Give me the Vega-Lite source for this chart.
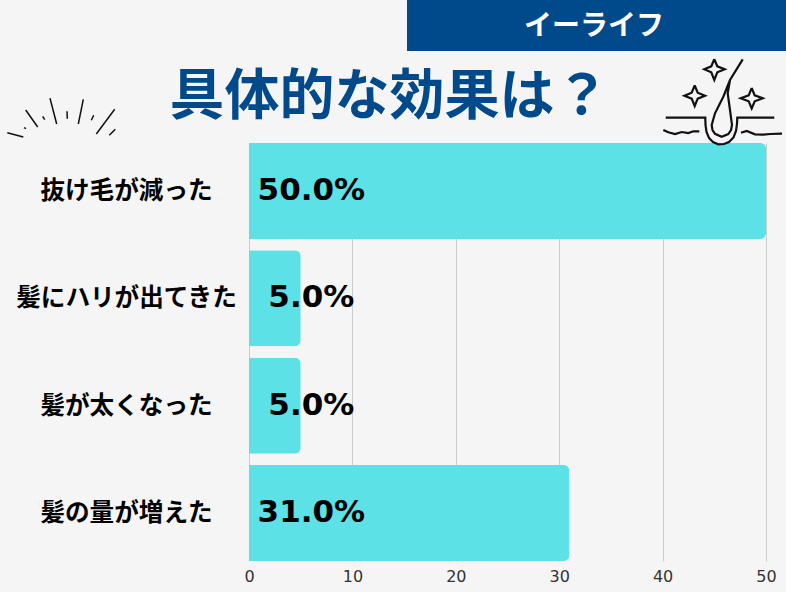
{
  "$schema": "https://vega.github.io/schema/vega-lite/v6.json",
  "description": "具体的な効果は？",
  "width": 517,
  "height": 418,
  "autosize": {"type": "none"},
  "padding": {"left": 249, "top": 143, "right": 20, "bottom": 31},
  "background": "#f5f5f5",
  "title": {
    "text": "具体的な効果は？",
    "font": "Noto Sans CJK JP",
    "fontSize": 55,
    "fontWeight": "bold",
    "color": "#004a8b",
    "anchor": "middle",
    "frame": "group",
    "dx": -118,
    "dy": 136,
    "offset": 10
  },
  "config": {"view": {"stroke": null}},
  "datasets": {
    "effects": [
      {"effect": "抜け毛が減った", "percent": 50.0, "label": "50.0%"},
      {"effect": "髪にハリが出てきた", "percent": 5.0, "label": "5.0%"},
      {"effect": "髪が太くなった", "percent": 5.0, "label": "5.0%"},
      {"effect": "髪の量が増えた", "percent": 31.0, "label": "31.0%"}
    ],
    "banner": [{"x": 407, "x2": 786, "y": 0, "y2": 51, "cx": 594, "cy": 27, "label": "イーライフ"}],
    "burst": [
      {"path": "a", "i": 0, "x": 7.3, "y": 132.7}, {"path": "a", "i": 1, "x": 23.3, "y": 137},
      {"path": "b", "i": 0, "x": 24, "y": 127.7}, {"path": "b", "i": 1, "x": 26, "y": 128.7},
      {"path": "c", "i": 0, "x": 25.7, "y": 110}, {"path": "c", "i": 1, "x": 37.7, "y": 127},
      {"path": "d", "i": 0, "x": 42.7, "y": 116.3}, {"path": "d", "i": 1, "x": 44.7, "y": 119.7},
      {"path": "e", "i": 0, "x": 50, "y": 98.3}, {"path": "e", "i": 1, "x": 56.7, "y": 124},
      {"path": "f", "i": 0, "x": 67, "y": 111.3}, {"path": "f", "i": 1, "x": 67.3, "y": 118.7},
      {"path": "g", "i": 0, "x": 83.3, "y": 99.3}, {"path": "g", "i": 1, "x": 78.3, "y": 124},
      {"path": "h", "i": 0, "x": 93.7, "y": 115.3}, {"path": "h", "i": 1, "x": 91.3, "y": 120.3},
      {"path": "j", "i": 0, "x": 114.7, "y": 109.3}, {"path": "j", "i": 1, "x": 96.3, "y": 134},
      {"path": "k", "i": 0, "x": 115.3, "y": 129.3}, {"path": "k", "i": 1, "x": 109.3, "y": 135.3}
    ],
    "hair": [
      {"path": "skin", "i": 0, "x": 665.7, "y": 117.7}, {"path": "skin", "i": 1, "x": 705.3, "y": 117.7},
      {"path": "skin", "i": 2, "x": 705.5, "y": 125}, {"path": "skin", "i": 3, "x": 706.5, "y": 132},
      {"path": "skin", "i": 4, "x": 709, "y": 138}, {"path": "skin", "i": 5, "x": 713, "y": 142},
      {"path": "skin", "i": 6, "x": 718.3, "y": 144.3}, {"path": "skin", "i": 7, "x": 724, "y": 144},
      {"path": "skin", "i": 8, "x": 729, "y": 142}, {"path": "skin", "i": 9, "x": 733.5, "y": 137.5},
      {"path": "skin", "i": 10, "x": 736, "y": 131}, {"path": "skin", "i": 11, "x": 737, "y": 124},
      {"path": "skin", "i": 12, "x": 737.3, "y": 117.7}, {"path": "skin", "i": 13, "x": 774.3, "y": 117.7},
      {"path": "strand", "i": 0, "x": 742.7, "y": 59.3}, {"path": "strand", "i": 1, "x": 730, "y": 80},
      {"path": "strand", "i": 2, "x": 723.3, "y": 96.7}, {"path": "strand", "i": 3, "x": 715, "y": 113.3},
      {"path": "strand", "i": 4, "x": 711.7, "y": 125}, {"path": "strand", "i": 5, "x": 712.5, "y": 130},
      {"path": "strand", "i": 6, "x": 715, "y": 133.8}, {"path": "strand", "i": 7, "x": 721.7, "y": 136.7},
      {"path": "strand", "i": 8, "x": 728.3, "y": 134}, {"path": "strand", "i": 9, "x": 731, "y": 130},
      {"path": "strand", "i": 10, "x": 732, "y": 125}, {"path": "strand", "i": 11, "x": 730, "y": 110},
      {"path": "strand", "i": 12, "x": 727.7, "y": 93.3}, {"path": "strand", "i": 13, "x": 730, "y": 80},
      {"path": "waveL", "i": 0, "x": 663.3, "y": 130}, {"path": "waveL", "i": 1, "x": 668.3, "y": 132.3},
      {"path": "waveL", "i": 2, "x": 675, "y": 134}, {"path": "waveL", "i": 3, "x": 681.7, "y": 132},
      {"path": "waveL", "i": 4, "x": 688.3, "y": 133}, {"path": "waveL", "i": 5, "x": 693.3, "y": 131.3},
      {"path": "waveL", "i": 6, "x": 699.3, "y": 131.3},
      {"path": "waveR", "i": 0, "x": 741, "y": 132.7}, {"path": "waveR", "i": 1, "x": 746.7, "y": 131},
      {"path": "waveR", "i": 2, "x": 755, "y": 134.3}, {"path": "waveR", "i": 3, "x": 763.3, "y": 134.7},
      {"path": "waveR", "i": 4, "x": 770, "y": 134}, {"path": "waveR", "i": 5, "x": 782, "y": 133.7},
      {"path": "star1", "i": 0, "x": 714.3, "y": 59.3}, {"path": "star1", "i": 1, "x": 717.3, "y": 66.3},
      {"path": "star1", "i": 2, "x": 724.7, "y": 69.3}, {"path": "star1", "i": 3, "x": 717.3, "y": 72.3},
      {"path": "star1", "i": 4, "x": 714.3, "y": 80}, {"path": "star1", "i": 5, "x": 711.3, "y": 72.3},
      {"path": "star1", "i": 6, "x": 704.3, "y": 69.3}, {"path": "star1", "i": 7, "x": 711.3, "y": 66.3},
      {"path": "star1", "i": 8, "x": 714.3, "y": 59.3},
      {"path": "star2", "i": 0, "x": 694.7, "y": 85.5}, {"path": "star2", "i": 1, "x": 697.7, "y": 92.7},
      {"path": "star2", "i": 2, "x": 705, "y": 95.7}, {"path": "star2", "i": 3, "x": 697.7, "y": 98.7},
      {"path": "star2", "i": 4, "x": 694.7, "y": 106}, {"path": "star2", "i": 5, "x": 691.7, "y": 98.7},
      {"path": "star2", "i": 6, "x": 684.4, "y": 95.7}, {"path": "star2", "i": 7, "x": 691.7, "y": 92.7},
      {"path": "star2", "i": 8, "x": 694.7, "y": 85.5},
      {"path": "star3", "i": 0, "x": 751.7, "y": 88}, {"path": "star3", "i": 1, "x": 754.7, "y": 95.3},
      {"path": "star3", "i": 2, "x": 762.7, "y": 98.3}, {"path": "star3", "i": 3, "x": 754.7, "y": 101.3},
      {"path": "star3", "i": 4, "x": 751.7, "y": 108.5}, {"path": "star3", "i": 5, "x": 748.7, "y": 101.3},
      {"path": "star3", "i": 6, "x": 740.7, "y": 98.3}, {"path": "star3", "i": 7, "x": 748.7, "y": 95.3},
      {"path": "star3", "i": 8, "x": 751.7, "y": 88}
    ]
  },
  "layer": [
    {
      "data": {"name": "effects"},
      "mark": {"type": "bar", "color": "#5ce1e6", "cornerRadiusEnd": 6},
      "encoding": {
        "x": {
          "field": "percent",
          "type": "quantitative",
          "scale": {"domain": [0, 50], "nice": false},
          "axis": {
            "title": null,
            "values": [0, 10, 20, 30, 40, 50],
            "grid": true,
            "gridColor": "#cccccc",
            "gridWidth": 1,
            "domain": false,
            "ticks": false,
            "labelFont": "DejaVu Sans",
            "labelFontSize": 16,
            "labelColor": "#333333",
            "labelPadding": 7,
            "labelFlush": false,
            "labelOverlap": false
          }
        },
        "y": {
          "field": "effect",
          "type": "nominal",
          "sort": null,
          "scale": {"type": "band", "paddingInner": 0.105, "paddingOuter": 0},
          "axis": {
            "title": null,
            "domain": false,
            "ticks": false,
            "labelFont": "Noto Sans CJK JP",
            "labelFontSize": 24.6,
            "labelFontWeight": "bold",
            "labelColor": "#000000",
            "labelAlign": "center",
            "labelPadding": 123,
            "labelOffset": 1,
            "labelLimit": 300
          }
        }
      }
    },
    {
      "data": {"name": "effects"},
      "mark": {"type": "text", "font": "DejaVu Sans", "fontSize": 31, "fontWeight": "bold", "color": "#000000", "align": "center", "baseline": "middle"},
      "encoding": {
        "x": {"datum": 6.03, "type": "quantitative", "scale": {"domain": [0, 50], "nice": false}, "axis": null},
        "y": {"field": "effect", "type": "nominal", "sort": null, "scale": {"type": "band", "paddingInner": 0.105, "paddingOuter": 0}, "axis": null},
        "text": {"field": "label"}
      }
    },
    {
      "data": {"name": "banner"},
      "mark": {"type": "rect", "color": "#004a8b"},
      "encoding": {
        "x": {"field": "x", "type": "quantitative", "scale": {"domain": [249, 766], "nice": false, "zero": false}, "axis": null},
        "x2": {"field": "x2"},
        "y": {"field": "y", "type": "quantitative", "scale": {"domain": [143, 561], "nice": false, "zero": false, "reverse": true}, "axis": null},
        "y2": {"field": "y2"}
      }
    },
    {
      "data": {"name": "banner"},
      "mark": {"type": "text", "font": "Noto Sans CJK JP", "fontSize": 28, "fontWeight": "bold", "color": "#ffffff", "align": "center", "baseline": "middle"},
      "encoding": {
        "x": {"field": "cx", "type": "quantitative", "scale": {"domain": [249, 766], "nice": false, "zero": false}, "axis": null},
        "y": {"field": "cy", "type": "quantitative", "scale": {"domain": [143, 561], "nice": false, "zero": false, "reverse": true}, "axis": null},
        "text": {"field": "label"}
      }
    },
    {
      "data": {"name": "burst"},
      "mark": {"type": "line", "color": "#111111", "strokeWidth": 1.5},
      "encoding": {
        "x": {"field": "x", "type": "quantitative", "scale": {"domain": [249, 766], "nice": false, "zero": false}, "axis": null},
        "y": {"field": "y", "type": "quantitative", "scale": {"domain": [143, 561], "nice": false, "zero": false, "reverse": true}, "axis": null},
        "detail": {"field": "path"},
        "order": {"field": "i"}
      }
    },
    {
      "data": {"name": "hair"},
      "mark": {"type": "line", "color": "#111111", "strokeWidth": 2.2},
      "encoding": {
        "x": {"field": "x", "type": "quantitative", "scale": {"domain": [249, 766], "nice": false, "zero": false}, "axis": null},
        "y": {"field": "y", "type": "quantitative", "scale": {"domain": [143, 561], "nice": false, "zero": false, "reverse": true}, "axis": null},
        "detail": {"field": "path"},
        "order": {"field": "i"}
      }
    }
  ],
  "resolve": {"scale": {"x": "independent", "y": "independent"}, "axis": {"x": "independent", "y": "independent"}}
}
